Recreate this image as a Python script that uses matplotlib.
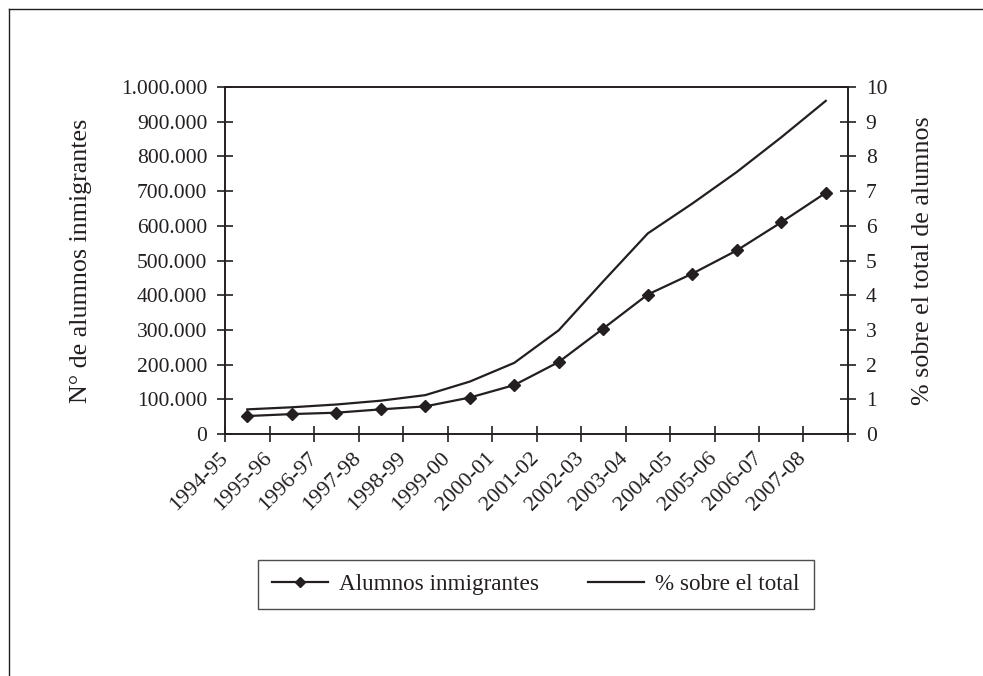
import matplotlib.pyplot as plt
from matplotlib.lines import Line2D
from matplotlib.ticker import FuncFormatter, MultipleLocator

# curso escolar
cursos = ["1994-95", "1995-96", "1996-97", "1997-98", "1998-99", "1999-00", "2000-01",
          "2001-02", "2002-03", "2003-04", "2004-05", "2005-06", "2006-07", "2007-08"]

# N° de alumnos inmigrantes (eje izquierdo)
alumnos = [51700, 57400, 61400, 71000, 79600, 105000, 141000,
           207500, 304000, 402000, 462000, 529000, 610000, 695000]

# % sobre el total de alumnos (eje derecho)
porcentaje = [0.71, 0.77, 0.85, 0.96, 1.12, 1.51, 2.05,
              2.99, 4.40, 5.78, 6.64, 7.55, 8.55, 9.60]

INK = "#231f20"
FS = 15.5

plt.rcParams.update({
    "font.family": ["Liberation Serif", "DejaVu Serif"],
    "font.size": FS,
    "text.color": INK,
    "axes.edgecolor": INK,
    "axes.labelcolor": INK,
    "xtick.color": INK,
    "ytick.color": INK,
})

fig = plt.figure(figsize=(9.83, 6.76), dpi=100)
ax = fig.add_axes([225 / 983, 1 - 434 / 676, 623 / 983, 347 / 676])
ax2 = ax.twinx()

x = [i + 0.5 for i in range(len(cursos))]

ax.plot(x, alumnos, color=INK, lw=1.6, marker="D", ms=6.5, mfc=INK, mec=INK, zorder=3)
ax2.plot(x, porcentaje, color=INK, lw=1.6, zorder=3)

ax.set_xlim(0, len(cursos))
ax.set_ylim(0, 1000000)
ax2.set_ylim(0, 10)

ax.set_xticks(range(len(cursos) + 1))
ax.set_xticklabels(cursos + [""], rotation=45, ha="right", va="center",
                   rotation_mode="anchor", fontsize=16)
ax.yaxis.set_major_locator(MultipleLocator(100000))
ax.yaxis.set_major_formatter(FuncFormatter(lambda v, p: f"{v:,.0f}".replace(",", ".")))
ax2.yaxis.set_major_locator(MultipleLocator(1))

for a in (ax, ax2):
    for s in a.spines.values():
        s.set_linewidth(1.2)
    a.tick_params(direction="inout", length=11.5, width=1.2, pad=7, labelsize=FS)
ax.tick_params(axis="x", pad=9.5, labelsize=16)
ax.tick_params(right=False)

ax.set_ylabel("N° de alumnos inmigrantes", fontsize=18.7)
ax.yaxis.set_label_coords(-0.2135, 0.5)
ax2.set_ylabel("% sobre el total de alumnos", fontsize=18.7)
ax2.yaxis.set_label_coords(1.103, 0.5)

handles = [
    Line2D([], [], color=INK, lw=1.6, marker="D", ms=5.5, mfc=INK, mec=INK),
    Line2D([], [], color=INK, lw=1.6),
]
leg = fig.legend(handles, ["Alumnos inmigrantes", "% sobre el total"], ncol=2,
                 loc="center", bbox_to_anchor=(536 / 983, 1 - 584.5 / 676),
                 fontsize=16.7, frameon=True, fancybox=False, handlelength=2.4,
                 handletextpad=0.5, columnspacing=2.1, borderpad=0.6,
                 borderaxespad=0)
leg.get_frame().set_edgecolor(INK)
leg.get_frame().set_linewidth(1.0)

# marco de la figura
fig.add_artist(Line2D([9 / 983, 1], [1 - 9 / 676, 1 - 9 / 676], color=INK, lw=1.0))
fig.add_artist(Line2D([9 / 983, 9 / 983], [0, 1 - 9 / 676], color=INK, lw=1.0))

fig.savefig("out.png", dpi=100)
